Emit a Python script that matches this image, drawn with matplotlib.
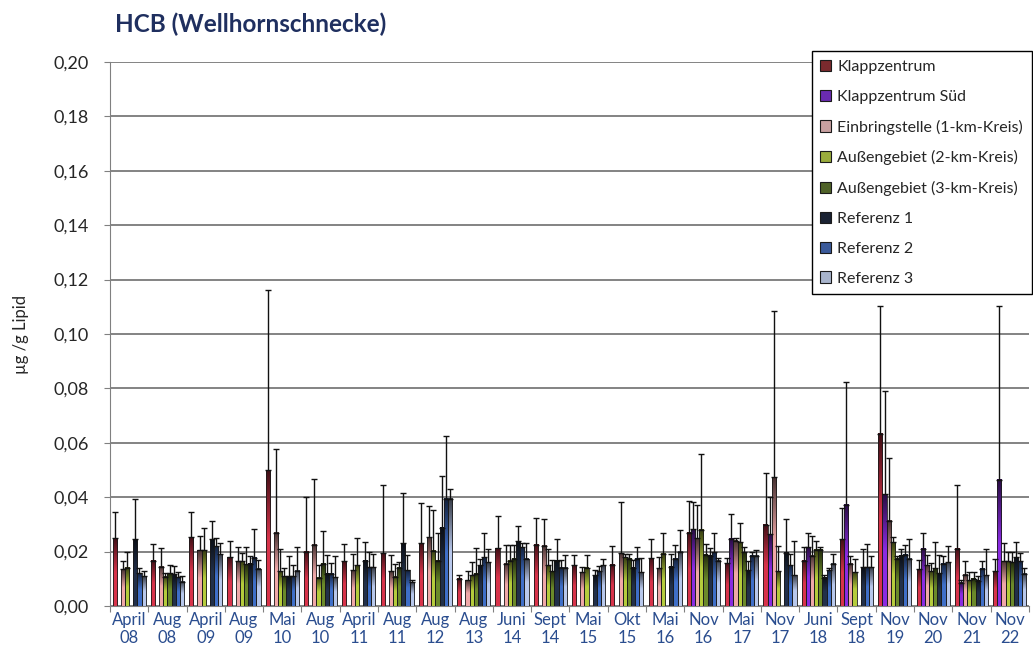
import numpy as np
import matplotlib
matplotlib.use('Agg')
import matplotlib.pyplot as plt
from matplotlib.colors import LinearSegmentedColormap, to_rgb
from matplotlib.patches import Patch
from matplotlib.ticker import FuncFormatter, FixedLocator

plt.rcParams['font.family'] = ['Lato', 'DejaVu Sans']

nan = np.nan

# Probenahmen
categories = ['April\n08', 'Aug\n08', 'April\n09', 'Aug\n09', 'Mai\n10', 'Aug\n10', 'April\n11', 'Aug\n11',
              'Aug\n12', 'Aug\n13', 'Juni\n14', 'Sept\n14', 'Mai\n15', 'Okt\n15', 'Mai\n16', 'Nov\n16',
              'Mai\n17', 'Nov\n17', 'Juni\n18', 'Sept\n18', 'Nov\n19', 'Nov\n20', 'Nov\n21', 'Nov\n22']

series_names = ['Klappzentrum', 'Klappzentrum Süd', 'Einbringstelle (1-km-Kreis)', 'Außengebiet (2-km-Kreis)',
                'Außengebiet (3-km-Kreis)', 'Referenz 1', 'Referenz 2', 'Referenz 3']

# Mittelwerte (ug/g Lipid)
klapp = [0.025, 0.0167, 0.0252, 0.018, 0.050, 0.020, 0.0165, 0.0194, 0.023, 0.010, 0.0212, 0.0225,
         0.0149, 0.0152, 0.0176, 0.027, 0.0158, 0.0298, 0.0167, 0.0246, 0.0634, 0.0135, 0.021, 0.0127]
klapp_sued = [nan] * 15 + [0.0282, 0.0248, 0.0264, 0.0216, 0.0373, 0.041, 0.021, 0.0086, 0.0464]
einbring = [0.0135, 0.0145, 0.0205, 0.0164, 0.027, 0.0225, 0.0131, 0.0127, 0.0252, 0.0095, 0.0155, 0.0222,
            0.0125, 0.0194, 0.0139, 0.025, 0.024, 0.0473, 0.0185, 0.0155, 0.0313, 0.0149, 0.0115, 0.0164]
aussen2 = [0.014, 0.0107, 0.0205, 0.0164, 0.0127, 0.0104, 0.0149, 0.0107, 0.0204, 0.0113, 0.0167, 0.0149,
           0.014, 0.018, 0.0192, 0.028, 0.0234, 0.0127, 0.0206, 0.0125, 0.0234, 0.0128, 0.0095, 0.0164]
aussen3 = [nan, 0.012, nan, 0.0153, 0.011, 0.0155, nan, 0.014, 0.0167, 0.0119, 0.0173, 0.0128,
           nan, 0.0173, nan, 0.0188, 0.0198, nan, 0.0206, nan, 0.0173, 0.0139, 0.010, 0.016]
ref1 = [0.0245, 0.0116, 0.0245, 0.0155, 0.011, 0.0119, 0.0167, 0.0231, 0.0288, 0.0149, 0.0238, 0.0167,
        0.0113, 0.014, 0.0145, 0.0185, 0.0131, 0.0195, 0.0104, 0.0143, 0.0185, 0.0121, 0.0092, 0.018]
ref2 = [0.012, 0.0105, 0.022, 0.0177, 0.011, 0.0119, 0.0143, 0.0131, 0.0395, 0.018, 0.0216, 0.014,
        0.0127, 0.0173, 0.0173, 0.0198, 0.0185, 0.015, 0.0131, 0.0143, 0.0188, 0.0155, 0.0137, 0.0164]
ref3 = [0.011, 0.009, 0.019, 0.0137, 0.013, 0.0105, 0.0143, 0.0088, 0.0395, 0.016, 0.0173, 0.014,
        0.0149, 0.0125, 0.020, 0.0167, 0.0185, 0.0113, 0.0155, 0.0143, 0.0173, 0.016, 0.0113, 0.0119]

# Standardabweichungen (nur nach oben dargestellt)
klapp_err = [0.0095, 0.006, 0.0093, 0.006, 0.066, 0.020, 0.0064, 0.025, 0.015, 0.0013, 0.012, 0.010,
             0.004, 0.007, 0.007, 0.0115, 0.002, 0.019, 0.005, 0.0114, 0.047, 0.0035, 0.0236, 0.0046]
klapp_sued_err = [nan] * 15 + [0.010, 0.009, 0.0136, 0.0054, 0.045, 0.038, 0.0058, 0.001, 0.064]
einbring_err = [0.003, 0.0068, 0.0053, 0.0052, 0.0306, 0.0242, 0.006, 0.006, 0.0115, 0.0035, 0.007, 0.0097,
                0.002, 0.019, 0.004, 0.0123, 0.001, 0.061, 0.0073, 0.003, 0.0232, 0.004, 0.0052, 0.0067]
aussen2_err = [0.006, 0.0015, 0.008, 0.003, 0.0083, 0.0046, 0.010, 0.0048, 0.0148, 0.0047, 0.0058, 0.006,
               0.0048, 0.001, 0.0075, 0.028, 0.007, 0.0095, 0.0034, 0.0048, 0.002, 0.003, 0.003, 0.0034]
aussen3_err = [nan, 0.003, nan, 0.0063, 0.003, 0.012, nan, 0.002, 0.010, 0.0093, 0.005, 0.004,
               nan, 0.002, nan, 0.004, 0.002, nan, 0.001, nan, 0.001, 0.0095, 0.0025, 0.004]
ref1_err = [0.015, 0.003, 0.0068, 0.003, 0.0075, 0.007, 0.007, 0.0185, 0.019, 0.0024, 0.0057, 0.008,
            0.002, 0.003, 0.0045, 0.003, 0.0036, 0.0125, 0.001, 0.0067, 0.0025, 0.0065, 0.002, 0.0054]
ref2_err = [0.002, 0.002, 0.003, 0.0107, 0.004, 0.004, 0.0055, 0.0057, 0.023, 0.0087, 0.0014, 0.003,
            0.002, 0.0043, 0.005, 0.007, 0.0015, 0.004, 0.001, 0.0085, 0.0035, 0.003, 0.0028, 0.003]
ref3_err = [0.002, 0.002, 0.004, 0.0033, 0.0086, 0.008, 0.0047, 0.0007, 0.0035, 0.005, 0.0057, 0.0048,
            0.0024, 0.005, 0.008, 0.001, 0.002, 0.0127, 0.0035, 0.004, 0.0075, 0.006, 0.0097, 0.002]

values = [klapp, klapp_sued, einbring, aussen2, aussen3, ref1, ref2, ref3]
errors = [klapp_err, klapp_sued_err, einbring_err, aussen2_err, aussen3_err, ref1_err, ref2_err, ref3_err]

# Farben (unten hell, oben dunkel wie Excel-Verlauf)
base_colors = ['#d8334a', '#8a2be2', '#f0a8a8', '#b5cc3c', '#6b8a2a', '#22304a', '#3f6fc8', '#b8c8ec']
legend_colors = ['#7a2a2e', '#6a2bb0', '#c8a0a0', '#9aac3c', '#4f6228', '#1a2233', '#3a5a9a', '#a8b4cc']

fig = plt.figure(figsize=(10.33, 6.57), dpi=100)
ax = fig.add_axes([0.1065, 0.0776, 0.8895, 0.828])

x = np.arange(len(categories))
n = len(values)
w = 0.108

grad = np.linspace(0, 1, 64).reshape(-1, 1)
for i in range(n):
    vals = np.array(values[i], dtype=float)
    errs = np.array(errors[i], dtype=float)
    xpos = x + (i - (n - 1) / 2) * w
    base = np.array(to_rgb(base_colors[i]))
    dark = base * 0.3
    cmap = LinearSegmentedColormap.from_list('g%d' % i, [base, base, dark])
    bars = ax.bar(xpos, np.nan_to_num(vals), w, facecolor='none', edgecolor='#1a1a1a', linewidth=0.6, zorder=3)
    for b, v in zip(bars, vals):
        if np.isnan(v):
            b.set_visible(False)
            continue
        ax.imshow(grad, extent=[b.get_x(), b.get_x() + b.get_width(), 0, b.get_height()],
                  origin='lower', aspect='auto', cmap=cmap, interpolation='bilinear', zorder=2)
    ax.errorbar(xpos, vals, yerr=[np.zeros_like(errs), errs], fmt='none', ecolor='#111111',
                elinewidth=1.0, capsize=2.5, capthick=1.0, zorder=4)

ax.set_xlim(-0.5, len(categories) - 0.5)
ax.set_ylim(0, 0.2)
ax.set_aspect('auto')

# Achsen
ax.set_yticks(np.arange(0, 0.201, 0.02))
ax.yaxis.set_major_formatter(FuncFormatter(lambda v, p: ('%.2f' % v).replace('.', ',')))
ax.yaxis.grid(True, color='#7a7a7a', linewidth=1.3)
ax.set_axisbelow(True)
ax.tick_params(axis='y', labelsize=13, labelcolor='#262626', length=4, color='#808080', pad=11)

ax.xaxis.set_major_locator(FixedLocator(np.arange(-0.5, len(categories), 1.0)))
ax.xaxis.set_minor_locator(FixedLocator(x))
ax.set_xticklabels([], minor=False)
ax.set_xticklabels(categories, minor=True)
ax.tick_params(axis='x', which='major', length=4, color='#808080')
ax.tick_params(axis='x', which='minor', length=0, labelsize=12, labelcolor='#2a4d8f', pad=4)

for s in ['top', 'right']:
    ax.spines[s].set_visible(False)
ax.spines['left'].set_color('#808080')
ax.spines['bottom'].set_color('#808080')

ax.set_ylabel('µg /g Lipid', fontsize=12, color='#262626', labelpad=18)

fig.text(0.111, 0.963, 'HCB (Wellhornschnecke)', fontsize=17.5, fontweight='bold', color='#1f2f5f',
         ha='left', va='center')

handles = [Patch(facecolor=c, edgecolor='#1a1a1a', linewidth=0.8) for c in legend_colors]
leg = ax.legend(handles, series_names, loc='upper right', bbox_to_anchor=(1.003, 1.02),
                fontsize=11.5, frameon=True, fancybox=False, framealpha=1, edgecolor='#000000',
                handlelength=0.7, handleheight=0.7, handletextpad=0.35, labelspacing=0.98,
                borderpad=0.55, borderaxespad=0)
leg.get_frame().set_linewidth(1.0)
for t in leg.get_texts():
    t.set_color('#262626')

fig.savefig('out.png', dpi=100)
